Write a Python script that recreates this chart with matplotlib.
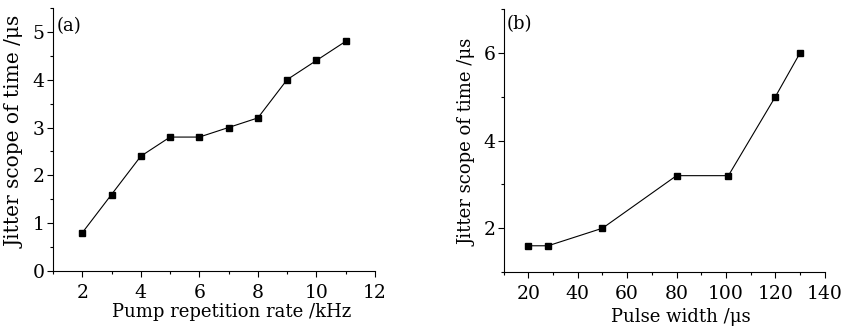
import matplotlib.pyplot as plt
from matplotlib.ticker import MultipleLocator

plt.rcParams['font.family'] = ['DejaVu Serif']
plt.rcParams['mathtext.fontset'] = 'dejavuserif'

rate_khz = [2, 3, 4, 5, 6, 7, 8, 9, 10, 11]
jitter_a = [0.8, 1.6, 2.4, 2.8, 2.8, 3.0, 3.2, 4.0, 4.4, 4.8]

width_us = [20, 28, 50, 80, 101, 120, 130]
jitter_b = [1.6, 1.6, 2.0, 3.2, 3.2, 5.0, 6.0]

fig = plt.figure(figsize=(8.45, 3.27), dpi=100)
ax1 = fig.add_axes([0.0627, 0.171, 0.381, 0.805])
ax2 = fig.add_axes([0.596, 0.168, 0.380, 0.804])

for ax in (ax1, ax2):
    for s in ('top', 'right'):
        ax.spines[s].set_visible(False)
    ax.tick_params(which='major', direction='out', length=4, width=0.8, labelsize=13.5, pad=2)
    ax.tick_params(which='minor', direction='out', length=2.5, width=0.8)
    ax.tick_params(axis='x', which='major', pad=5)

ax1.plot(rate_khz, jitter_a, color='black', lw=0.8, marker='s', markersize=4.5)
ax1.set_xlim(1, 12)
ax1.set_ylim(0, 5.5)
ax1.xaxis.set_major_locator(MultipleLocator(2))
ax1.xaxis.set_minor_locator(MultipleLocator(1))
ax1.yaxis.set_major_locator(MultipleLocator(1))
ax1.yaxis.set_minor_locator(MultipleLocator(0.5))
ax1.set_xlabel('Pump repetition rate /kHz', fontsize=13)
ax1.xaxis.set_label_coords(0.555, -0.123)
ax1.set_ylabel('Jitter scope of time /μs', fontsize=14.5)
ax1.yaxis.set_label_coords(-0.087, 0.53)
ax1.text(0.01, 0.965, '(a)', transform=ax1.transAxes, fontsize=13, va='top', ha='left')

ax2.plot(width_us, jitter_b, color='black', lw=0.8, marker='s', markersize=4.5)
ax2.set_xlim(10, 140)
ax2.set_ylim(1, 7)
ax2.xaxis.set_major_locator(MultipleLocator(20))
ax2.xaxis.set_minor_locator(MultipleLocator(10))
ax2.yaxis.set_major_locator(MultipleLocator(2))
ax2.yaxis.set_minor_locator(MultipleLocator(1))
ax2.set_xlabel('Pulse width /μs', fontsize=13)
ax2.xaxis.set_label_coords(0.551, -0.135)
ax2.set_ylabel('Jitter scope of time /μs', fontsize=13)
ax2.yaxis.set_label_coords(-0.085, 0.494)
ax2.text(0.01, 0.978, '(b)', transform=ax2.transAxes, fontsize=13, va='top', ha='left')

fig.savefig('out.png', dpi=100)
